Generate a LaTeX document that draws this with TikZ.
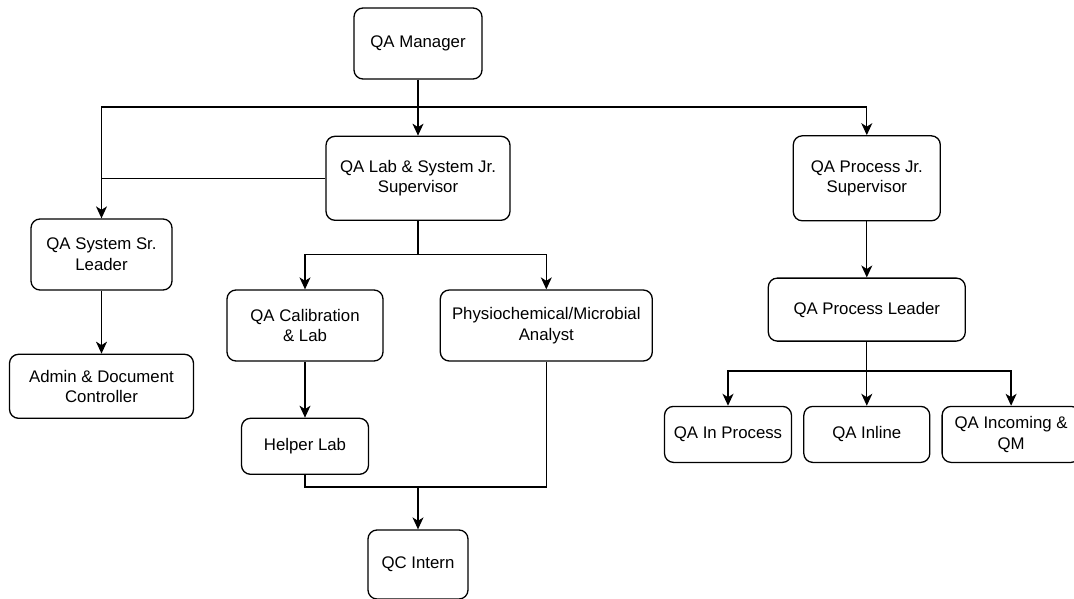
\documentclass[tikz,border=0pt]{standalone}
\usepackage{fontspec}
\setmainfont{Liberation Sans}
\usetikzlibrary{arrows.meta,positioning}

\begin{document}
\begin{tikzpicture}[
   x=1pt, y=-1pt, >={Stealth[length=12pt,width=11pt,inset=3.5pt]},
   box/.style={draw, line width=1.3pt, rounded corners=9pt, align=center,
               font=\fontsize{16.8}{20.6}\selectfont, inner sep=2pt},
   dep/.style={->, line width=1.3pt},
   link/.style={line width=1.3pt},
]
\useasboundingbox (0,0) rectangle (1074,599);
% top
\node[box, minimum width=128pt, minimum height=71pt] (mgr) at (418,43.5) {QA Manager};
% layer 1
\node[box, minimum width=184pt, minimum height=84pt, below=56pt of mgr] (lab)
  {QA Lab \& System Jr.\\Supervisor};
\node[box, minimum width=147pt, minimum height=85pt, right=282pt of lab] (proc)
  {QA Process Jr.\\Supervisor};
\node[box, minimum width=141pt, minimum height=71pt] (sys) at (101.5,254.5)
  {QA System Sr.\\Leader};
% layer 2
\node[box, minimum width=184pt, minimum height=64pt, below=63pt of sys] (admin)
  {Admin \& Document\\Controller};
\node[box, minimum width=156pt, minimum height=71pt] (cal) at (305,325.5)
  {QA Calibration\\\& Lab};
\node[box, minimum width=212pt, minimum height=71pt, right=56pt of cal] (phys)
  {Physiochemical/Microbial\\Analyst};
\node[box, minimum width=197pt, minimum height=63pt, below=56pt of proc] (pl)
  {QA Process Leader};
% layer 3
\node[box, minimum width=127pt, minimum height=56pt, below=56pt of cal] (helper) {Helper Lab};
\node[box, minimum width=100pt, minimum height=69pt] (qc) at (418,564.5) {QC Intern};
\node[box, minimum width=126pt, minimum height=56pt, below=64pt of pl] (inline) {QA Inline};
\node[box, minimum width=127pt, minimum height=56pt, left=11pt of inline] (inproc) {QA In Process};
\node[box, minimum width=138pt, minimum height=56pt, right=11pt of inline] (incoming)
  {QA Incoming \&\\QM};
% buses
\coordinate (topbus) at (418,107);
\coordinate (labbus) at (418,254.5);
\coordinate (qcbus) at (418,487);
\coordinate (plbus) at (pl.south |- 0,371);
% edges
\draw[dep] (mgr) -- (lab);
\draw[dep] (topbus) -| (sys);
\draw[dep] (topbus) -| (proc);
\draw[link] (lab.west) -- (lab.west -| sys);
\draw[dep] (sys) -- (admin);
\draw[link] (lab) -- (labbus);
\draw[dep] (labbus) -| (cal);
\draw[dep] (labbus) -| (phys);
\draw[dep] (cal) -- (helper);
\draw[link] (helper) |- (qcbus) -| (phys);
\draw[dep] (qcbus) -- (qc);
\draw[dep] (proc) -- (pl);
\draw[link] (pl.south) -- (plbus);
\draw[dep] (plbus) -| (inproc);
\draw[dep] (plbus) -- (inline);
\draw[dep] (plbus) -| (incoming);
\end{tikzpicture}
\end{document}
